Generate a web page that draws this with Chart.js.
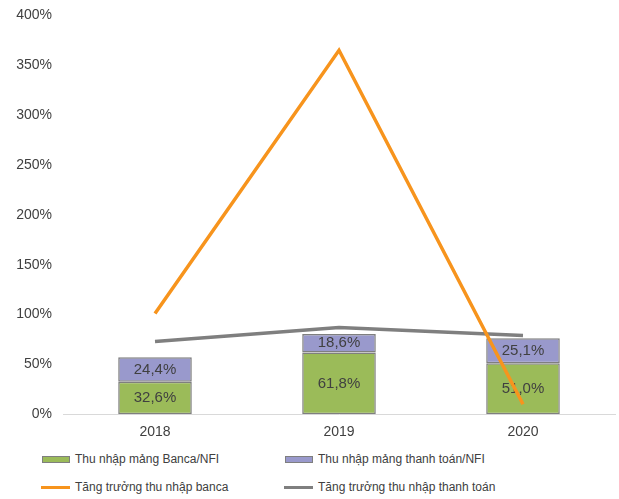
<!DOCTYPE html>
<html>
<head>
<meta charset="utf-8">
<script src="https://cdn.jsdelivr.net/npm/chart.js@4/dist/chart.umd.min.js"></script>
<style>
  body { margin: 0; background: #fff; font-family: "Liberation Sans", Arial, sans-serif; }
  #wrap { position: relative; width: 619px; height: 499px; overflow: hidden; }
  #box { position: absolute; left: 0; top: -4px; width: 619px; height: 455px; }
  .lg { position: absolute; font-size: 12px; color: #404040; white-space: nowrap; }
  .lg span { display: inline-block; vertical-align: middle; margin-right: 5px; }
  .sw { width: 26px; height: 5px; border: 1px solid #7f7f7f; }
  .ln { width: 29px; height: 3px; }
</style>
</head>
<body>
<div id="wrap">
  <div id="box"><canvas id="myChart"></canvas></div>
  <div class="lg" style="left:42px;top:452px"><span class="sw" style="background:#9bbb59"></span>Thu nhập mảng Banca/NFI</div>
  <div class="lg" style="left:285px;top:452px"><span class="sw" style="background:#9999cc"></span>Thu nhập mảng thanh toán/NFI</div>
  <div class="lg" style="left:41px;top:480px"><span class="ln" style="background:#f7941d"></span>Tăng trưởng thu nhập banca</div>
  <div class="lg" style="left:284px;top:480px"><span class="ln" style="background:#7f7f7f"></span>Tăng trưởng thu nhập thanh toán</div>
</div>
<script>
/* global Chart */
const years = ["2018", "2019", "2020"];
const bancaShare = [32.6, 61.8, 51.0];
const paymentShare = [24.4, 18.6, 25.1];
const bancaGrowth = [101, 365, 10];
const paymentGrowth = [73, 87, 79];
const yTicks = [0, 50, 100, 150, 200, 250, 300, 350, 400];

const fmt = (v) => v.toFixed(1).replace(".", ",") + "%";

// value labels in the middle of each bar segment
const barLabels = {
  id: "barLabels",
  afterDatasetDraw(chart, args) {
    const ds = chart.data.datasets[args.index];
    if (ds.type !== "bar") return;
    const ctx = chart.ctx;
    ctx.save();
    ctx.font = "15px 'Liberation Sans', Arial, sans-serif";
    ctx.fillStyle = "#404040";
    ctx.textAlign = "center";
    ctx.textBaseline = "middle";
    args.meta.data.forEach((bar, i) => {
      const mid = (bar.y + bar.base) / 2;
      ctx.fillText(fmt(ds.data[i]), bar.x, mid);
    });
    ctx.restore();
  },
};

var ctx = document.getElementById("myChart").getContext("2d");
var myChart = new Chart(ctx, {
  data: {
    labels: years,
    datasets: [
      {
        type: "bar",
        label: "Thu nhập mảng Banca/NFI",
        data: bancaShare,
        backgroundColor: "#9bbb59",
        borderColor: "#7f7f7f",
        borderWidth: 1.5,
        borderSkipped: false,
        order: 2,
      },
      {
        type: "bar",
        label: "Thu nhập mảng thanh toán/NFI",
        data: paymentShare,
        backgroundColor: "#9999cc",
        borderColor: "#7f7f7f",
        borderWidth: 1.5,
        borderSkipped: false,
        order: 2,
      },
      {
        type: "line",
        label: "Tăng trưởng thu nhập banca",
        data: bancaGrowth,
        borderColor: "#f7941d",
        borderWidth: 3.5,
        pointRadius: 0,
        tension: 0,
        stack: "growth1",
        order: 1,
      },
      {
        type: "line",
        label: "Tăng trưởng thu nhập thanh toán",
        data: paymentGrowth,
        borderColor: "#7f7f7f",
        borderWidth: 3.5,
        pointRadius: 0,
        tension: 0,
        stack: "growth2",
        order: 1,
      },
    ],
  },
  options: {
    responsive: true,
    maintainAspectRatio: false,
    animation: false,
    layout: { padding: { top: 4, right: 4, left: 0, bottom: 0 } },
    datasets: { bar: { barPercentage: 0.4, categoryPercentage: 1 } },
    plugins: { legend: { display: false }, tooltip: { enabled: false } },
    scales: {
      x: {
        stacked: true,
        grid: { display: false, drawTicks: false },
        border: { color: "#d9d9d9", width: 1 },
        ticks: { color: "#404040", font: { family: "'Liberation Sans', Arial", size: 14 }, padding: 10 },
      },
      y: {
        stacked: true,
        min: 0,
        max: 400,
        afterBuildTicks: (scale) => { scale.ticks = yTicks.map((v) => ({ value: v })); },
        afterFit: (scale) => { scale.width = 63; },
        grid: { display: false, drawTicks: false },
        border: { display: false },
        ticks: {
          color: "#404040",
          font: { family: "'Liberation Sans', Arial", size: 14 },
          padding: 11,
          callback: (v) => v + "%",
        },
      },
    },
  },
  plugins: [barLabels],
});
</script>
</body>
</html>
